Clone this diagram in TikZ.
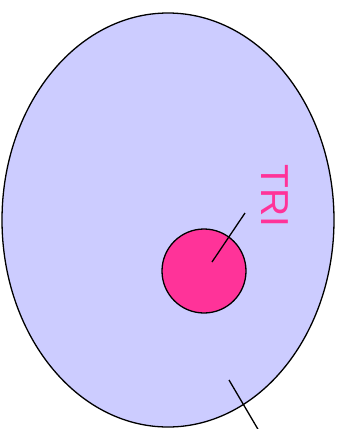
\documentclass[tikz,border=0pt]{standalone}
\usepackage{fontspec}
\setmainfont{Liberation Sans}
\definecolor{cellblue}{HTML}{CCCCFF}
\definecolor{tripink}{HTML}{FF3399}
\tikzset{
  cell/.style={draw=black,fill=cellblue,line width=1.3pt},
  nucleus/.style={circle,draw=black,fill=tripink,line width=1.3pt,minimum size=84pt,inner sep=0pt},
  pointer/.style={draw=black,line width=1.3pt,line cap=butt}
}
\begin{document}
\begin{tikzpicture}[x=1pt,y=-1pt,line join=round]
	\useasboundingbox (0,0) rectangle (346,429);
	\begin{scope}
		\clip (0,0) rectangle (346,429);
		\draw[cell] (168,220) ellipse [x radius=166,y radius=207];
		\node[nucleus] (tri) at (204,271) {};
		\node[text=tripink,font=\fontsize{39}{39}\selectfont,rotate=-90,inner sep=0pt] (lbl) at (274.5,196) {TRI};
		\coordinate (p1) at (212,262);
		\coordinate (p2) at (245,213);
		\coordinate (q1) at (229,380);
		\coordinate (q2) at (259,431);
		\draw[pointer] (p1) -- (p2);
		\draw[pointer] (q1) -- (q2);
	\end{scope}
\end{tikzpicture}
\end{document}
